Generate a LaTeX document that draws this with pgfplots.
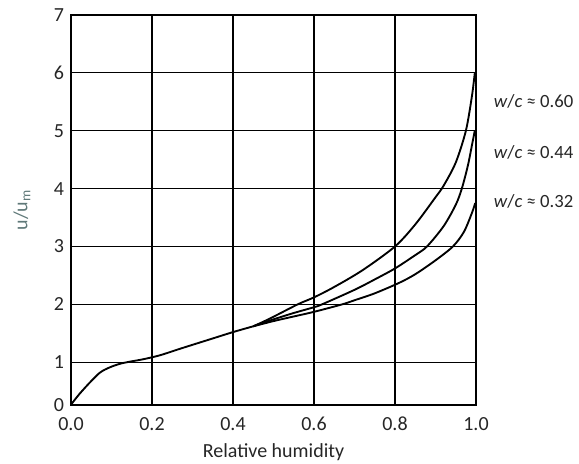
\documentclass[border=0pt]{standalone}
\usepackage{pgfplots}
\pgfplotsset{compat=1.18}
\usepackage{fontspec}
\setmainfont{Carlito}
\definecolor{ylab}{RGB}{95,120,120}
\begin{document}
\begin{tikzpicture}
\begin{axis}[
  at={(0,0)}, anchor=south west,
  scale only axis, width=303.75pt, height=292.5pt,
  xmin=0, xmax=1, ymin=0, ymax=7,
  y coord trafo/.code={\pgfmathparse{#1<1 ? 1-(1-#1)*0.74 : #1}},
  y coord inv trafo/.code={\pgfmathparse{#1<1 ? 1-(1-#1)/0.74 : #1}},
  xtick={0,0.2,0.4,0.6,0.8,1.0},
  xticklabels={0.0,0.2,0.4,0.6,0.8,1.0},
  ytick={0,1,2,3,4,5,6,7},
  yticklabels={0,1,2,3,4,5,6,7},
  tick label style={font=\fontsize{15}{16}\selectfont, text=black!85},
  xtick style={draw=none}, ytick style={draw=none},
  grid=major,
  major grid style={black, line width=0.9pt},
  axis line style={black, line width=1.8pt},
  xlabel={Relative humidity},
  ylabel={u/u\textsubscript{m}},
  xlabel style={font=\fontsize{15}{16}\selectfont, text=black!85, at={(axis description cs:0.5,-0.12)}, anchor=center},
  ylabel style={font=\fontsize{15}{16}\selectfont, text=ylab, at={(axis description cs:-0.121,0.5)}, anchor=center},
  xticklabel shift=5.5pt, yticklabel shift=1.75pt,
  clip=false,
]
\addplot[black, line width=1.4pt, smooth, tension=0.5] coordinates {
(0,0) (0.005,0.07) (0.022,0.27) (0.047,0.53) (0.072,0.76) (0.096,0.88) (0.12,0.96) (0.146,1.01) (0.178,1.05) (0.22,1.12) (0.264,1.22) (0.3,1.3) (0.35,1.41) (0.4,1.52) (0.45,1.62)
};
\addplot[black, line width=1.4pt, smooth, tension=0.5] coordinates {
(0.45,1.62) (0.49,1.75) (0.56,2.0) (0.6,2.12) (0.65,2.3) (0.72,2.59) (0.8,3.0) (0.85,3.38) (0.9,3.85) (0.92,4.05) (0.95,4.45) (0.975,5.0) (0.99,5.6) (0.997,6.0)
};
\addplot[black, line width=1.4pt, smooth, tension=0.5] coordinates {
(0.45,1.62) (0.5,1.74) (0.55,1.85) (0.6,1.95) (0.62,2.0) (0.7,2.25) (0.75,2.43) (0.8,2.62) (0.85,2.85) (0.879,3.0) (0.92,3.35) (0.95,3.72) (0.965,4.0) (0.98,4.4) (0.99,4.75) (0.997,5.0)
};
\addplot[black, line width=1.4pt, smooth, tension=0.5] coordinates {
(0.45,1.62) (0.5,1.71) (0.55,1.79) (0.6,1.87) (0.67,2.0) (0.7,2.07) (0.75,2.19) (0.81,2.37) (0.85,2.52) (0.9,2.76) (0.943,3.0) (0.97,3.25) (0.99,3.58) (0.998,3.75)
};
\node[anchor=west, inner sep=1pt, font=\fontsize{14}{15}\selectfont, text=black!85] at (axis cs:1.04,5.5) {\textit{w}/\textit{c} ≈ 0.60};
\node[anchor=west, inner sep=1pt, font=\fontsize{14}{15}\selectfont, text=black!85] at (axis cs:1.04,4.63) {\textit{w}/\textit{c} ≈ 0.44};
\node[anchor=west, inner sep=1pt, font=\fontsize{14}{15}\selectfont, text=black!85] at (axis cs:1.04,3.77) {\textit{w}/\textit{c} ≈ 0.32};
\end{axis}
\pgfresetboundingbox
\path[use as bounding box] (-53.25pt,-44.25pt) rectangle (381pt,303.75pt);
\end{tikzpicture}
\end{document}
